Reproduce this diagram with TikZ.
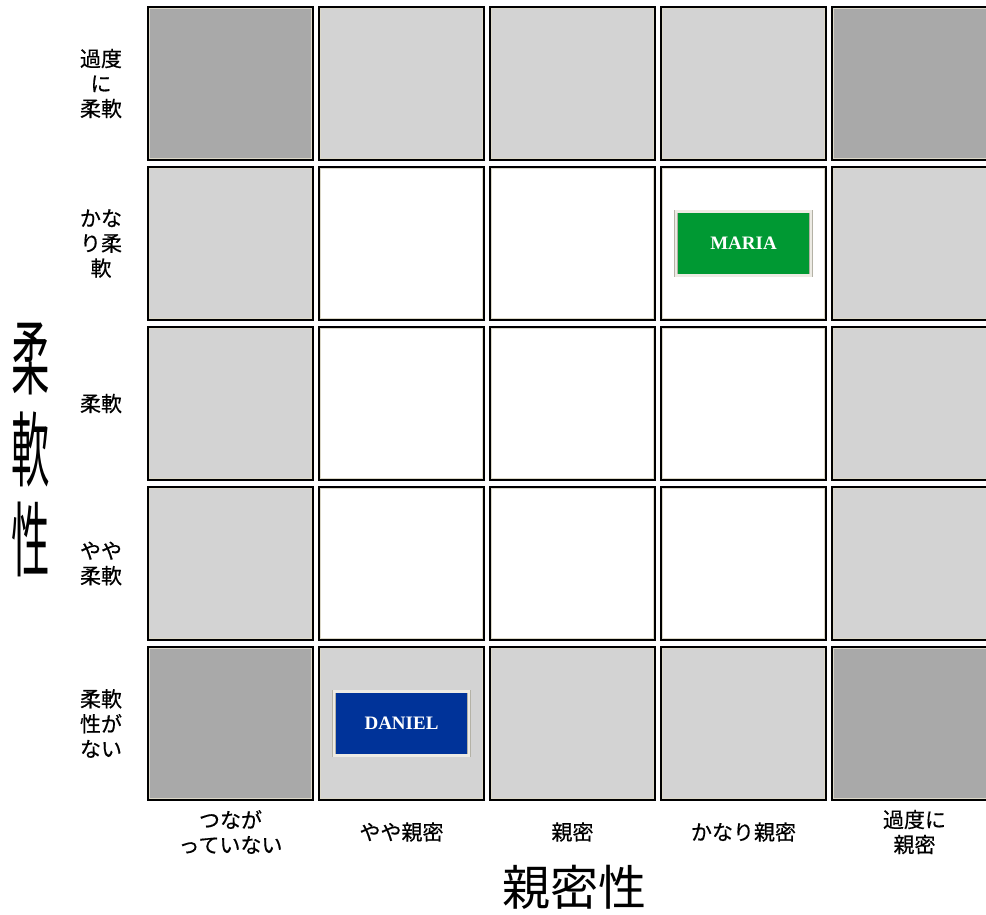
\documentclass[tikz,border=0pt]{standalone}
\usepackage{fontspec}
\setmainfont{Liberation Serif}
\newfontfamily\jpfont{Noto Sans CJK JP}
\newfontfamily\jplabfont[FakeBold=0.5]{Noto Sans CJK JP}
\usetikzlibrary{positioning}
\definecolor{cdark}{HTML}{A9A9A9}
\definecolor{clight}{HTML}{D3D3D3}
\definecolor{cedge}{HTML}{DCD8C8}
\definecolor{boxedge}{HTML}{B4B2A6}
\definecolor{mariagreen}{HTML}{009933}
\definecolor{danielblue}{HTML}{003399}

\begin{document}
\begin{tikzpicture}[x=1pt,y=-1pt,
  cell/.style={draw=black,line width=2pt,minimum width=165pt,minimum height=153pt,inner sep=0pt,outer sep=0pt,
    path picture={\draw[cedge,line width=4pt](path picture bounding box.south west) rectangle (path picture bounding box.north east);}},
  namebox/.style={draw=boxedge,double=cedge!50!white,double distance=2.6pt,line width=.6pt,
    minimum width=135pt,minimum height=64pt,text=white,font=\fontsize{19}{19}\selectfont\bfseries},
  axislab/.style={font=\jplabfont\fontsize{21}{25}\selectfont,align=center},
  xtitle/.style={font=\jpfont\fontsize{48}{48}\selectfont},
  ytitle/.style={font=\jpfont\fontsize{48}{48}\selectfont,inner sep=0pt}]
\path[use as bounding box,clip] (0,0) rectangle (986,914);
\foreach \cols[count=\r from 0] in {%
{cdark,clight,clight,clight,cdark},%
{clight,white,white,white,clight},%
{clight,white,white,white,clight},%
{clight,white,white,white,clight},%
{cdark,clight,clight,clight,cdark}%
}
\foreach \f[count=\c from 0] in \cols
  \node[cell,fill=\f](cell-\r-\c) at (230.5+171*\c,83.5+160*\r){};
\foreach \t[count=\r from 0] in {%
{過度\\に\\柔軟},%
{かな\\り柔\\軟},%
{柔軟},%
{やや\\柔軟},%
{柔軟\\性が\\ない}%
}
\node[axislab](rowlab-\r) at ([xshift=-129.5pt]cell-\r-0.center){\t};
\foreach \t[count=\c from 0] in {%
{つなが\\っていない},%
{やや親密},%
{親密},%
{かなり親密},%
{過度に\\親密}%
}
\node[axislab](collab-\c) at ([yshift=-32pt]cell-4-\c.south){\t};
\node[xtitle](xtitle) at (574,887){親密性};
\foreach \ch[count=\k from 0] in {柔,軟,性}
  \node[ytitle](ytitle-\k) at (31,359+90*\k){\scalebox{.8}[1.7]{\ch}};
\node[namebox,fill=mariagreen](maria) at (cell-1-3){MARIA};
\node[namebox,fill=danielblue](daniel) at (cell-4-1){DANIEL};
\end{tikzpicture}
\end{document}
